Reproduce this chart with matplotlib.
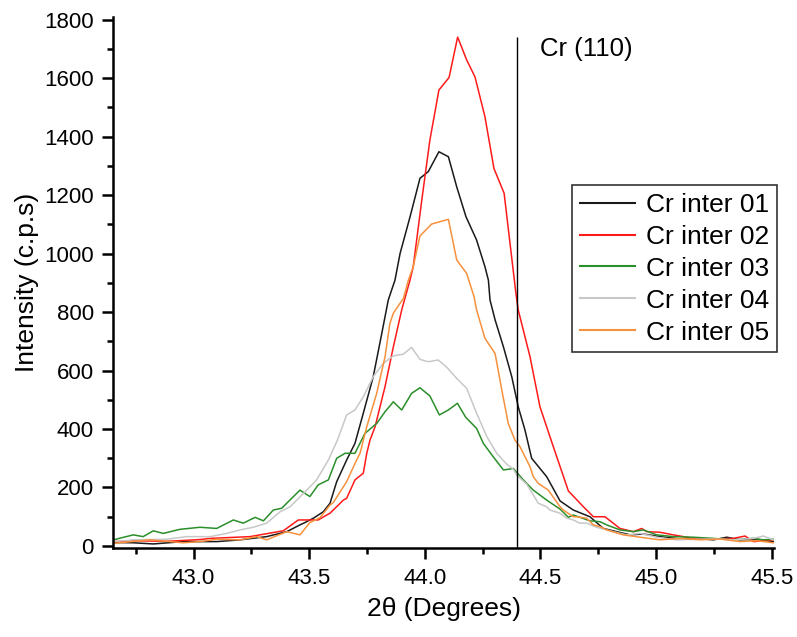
import matplotlib
matplotlib.use("Agg")
import matplotlib.pyplot as plt
from matplotlib.ticker import MultipleLocator

plt.rcParams['font.family'] = ['Liberation Sans', 'DejaVu Sans']

# ---- data ----
x01 = [42.653, 42.739, 42.826, 42.955, 43.100, 43.201, 43.316, 43.403, 43.460, 43.489, 43.518,
       43.561, 43.590, 43.619, 43.662, 43.698, 43.734, 43.777, 43.814, 43.842, 43.871, 43.893,
       43.936, 43.979, 44.015, 44.061, 44.102, 44.138, 44.178, 44.224, 44.260, 44.275, 44.282,
       44.304, 44.340, 44.376, 44.404, 44.433, 44.462, 44.527, 44.585, 44.642, 44.714, 44.772,
       44.830, 44.888, 44.945, 45.017, 45.104, 45.176, 45.248, 45.306, 45.363, 45.435, 45.507]
y01 = [12, 11, 7, 15, 15, 21, 32, 49, 72, 83, 95,
       117, 146, 220, 294, 351, 454, 579, 727, 841, 909, 1000,
       1125, 1257, 1280, 1348, 1331, 1228, 1126, 1046, 955, 909, 841,
       773, 681, 579, 476, 397, 300, 237, 154, 123, 100, 60,
       49, 38, 41, 32, 24, 26, 21, 30, 21, 23, 15]

x02 = [42.653, 42.739, 42.884, 43.028, 43.071, 43.244, 43.388, 43.453, 43.518, 43.539, 43.576,
       43.590, 43.648, 43.662, 43.698, 43.734, 43.749, 43.763, 43.785, 43.828, 43.864, 43.900,
       43.936, 43.950, 43.987, 44.022, 44.061, 44.105, 44.142, 44.181, 44.217, 44.260, 44.299,
       44.343, 44.394, 44.404, 44.455, 44.498, 44.556, 44.621, 44.686, 44.714, 44.729, 44.779,
       44.844, 44.902, 44.938, 44.960, 45.017, 45.075, 45.161, 45.248, 45.334, 45.385, 45.421,
       45.507]
y02 = [15, 18, 16, 22, 26, 32, 52, 89, 89, 89, 106,
       112, 157, 163, 226, 249, 317, 362, 408, 545, 681, 807,
       909, 955, 1183, 1388, 1559, 1602, 1740, 1662, 1604, 1468, 1291,
       1206, 864, 807, 647, 476, 339, 188, 134, 112, 100, 100,
       60, 49, 60, 49, 47, 38, 26, 24, 26, 34, 15,
       21]

x03 = [42.653, 42.739, 42.782, 42.826, 42.869, 42.941, 43.028, 43.100, 43.172, 43.215, 43.266,
       43.302, 43.345, 43.381, 43.460, 43.503, 43.539, 43.583, 43.619, 43.655, 43.698, 43.741,
       43.792, 43.828, 43.864, 43.900, 43.943, 43.979, 44.022, 44.063, 44.102, 44.141, 44.177,
       44.224, 44.253, 44.296, 44.340, 44.383, 44.426, 44.469, 44.527, 44.585, 44.621, 44.642,
       44.671, 44.714, 44.758, 44.787, 44.844, 44.902, 44.945, 45.003, 45.075, 45.161, 45.248,
       45.334, 45.421, 45.464, 45.507]
y03 = [21, 38, 32, 52, 43, 57, 64, 60, 89, 78, 98,
       86, 123, 129, 191, 169, 209, 226, 300, 317, 317, 385,
       419, 459, 493, 465, 522, 541, 513, 448, 465, 488, 440,
       402, 351, 305, 260, 265, 226, 191, 157, 126, 98, 106,
       98, 86, 83, 72, 55, 49, 55, 38, 32, 30, 26,
       21, 26, 21, 23]

x04 = [42.653, 42.739, 42.884, 42.970, 43.071, 43.143, 43.201, 43.258, 43.316, 43.374, 43.417,
       43.468, 43.518, 43.532, 43.583, 43.622, 43.662, 43.698, 43.734, 43.777, 43.821, 43.864,
       43.907, 43.943, 43.979, 44.015, 44.058, 44.095, 44.138, 44.181, 44.224, 44.268, 44.311,
       44.354, 44.383, 44.397, 44.441, 44.491, 44.527, 44.541, 44.585, 44.614, 44.642, 44.671,
       44.700, 44.743, 44.815, 44.873, 44.931, 45.003, 45.089, 45.176, 45.262, 45.334, 45.421,
       45.464, 45.507]
y04 = [15, 21, 23, 32, 32, 43, 55, 64, 78, 117, 134,
       174, 214, 226, 294, 362, 448, 465, 510, 579, 625, 650,
       656, 679, 638, 630, 636, 611, 573, 539, 454, 374, 317,
       280, 262, 243, 211, 146, 134, 123, 112, 95, 89, 78,
       78, 64, 49, 38, 43, 30, 21, 23, 24, 21, 26,
       34, 21]

x05 = [42.653, 42.811, 42.955, 43.028, 43.100, 43.201, 43.273, 43.316, 43.403, 43.460, 43.503,
       43.547, 43.590, 43.604, 43.662, 43.705, 43.720, 43.749, 43.792, 43.828, 43.849, 43.864,
       43.893, 43.907, 43.929, 43.950, 43.979, 44.030, 44.102, 44.138, 44.181, 44.213, 44.224,
       44.260, 44.304, 44.333, 44.361, 44.390, 44.412, 44.419, 44.455, 44.469, 44.491, 44.534,
       44.585, 44.599, 44.642, 44.657, 44.700, 44.729, 44.758, 44.787, 44.858, 44.931, 45.017,
       45.104, 45.190, 45.277, 45.363, 45.435, 45.507]
y05 = [9, 21, 11, 15, 23, 21, 32, 21, 49, 38, 80,
       97, 140, 148, 220, 294, 317, 408, 522, 647, 761, 796,
       830, 845, 909, 955, 1060, 1101, 1117, 978, 932, 852, 807,
       710, 658, 533, 419, 362, 339, 328, 271, 237, 214, 191,
       134, 123, 100, 100, 95, 72, 66, 55, 38, 30, 21,
       26, 21, 24, 15, 18, 11]

labels = ["Cr inter 01", "Cr inter 02", "Cr inter 03", "Cr inter 04", "Cr inter 05"]
colors = ["#1a1a1a", "#ff1a1a", "#2a8f2a", "#c8c8c8", "#f7913d"]
series = [(x01, y01), (x02, y02), (x03, y03), (x04, y04), (x05, y05)]

peak_pos = 44.4
peak_label = "Cr (110)"
peak_top = 1740

xticks = [43.0, 43.5, 44.0, 44.5, 45.0, 45.5]
yticks = list(range(0, 1801, 200))

# ---- figure ----
fig = plt.figure(figsize=(7.97, 6.37), dpi=100)
ax = fig.add_axes([0.1422, 0.1392, 0.8289, 0.8347])

for (xs, ys), lab, c in zip(series, labels, colors):
    ax.plot(xs, ys, color=c, lw=1.1, label=lab)

ax.set_xlim(42.653, 45.51)
ax.set_ylim(-8, 1810)
ax.vlines(peak_pos, -8, peak_top, color="black", lw=1.0)
ax.text(44.50, 1700, peak_label, fontsize=18.5, va="center", ha="left")

ax.set_xticks(xticks)
ax.set_xticklabels([f"{v:.1f}" for v in xticks])
ax.set_yticks(yticks)
ax.xaxis.set_minor_locator(MultipleLocator(0.25))
ax.yaxis.set_minor_locator(MultipleLocator(100))

for s in ["top", "right"]:
    ax.spines[s].set_visible(False)
for s in ["left", "bottom"]:
    ax.spines[s].set_linewidth(1.8)

ax.tick_params(which="major", direction="out", length=8, width=1.8, labelsize=16, pad=6)
ax.tick_params(which="minor", direction="out", length=4.5, width=1.8)

ax.set_xlabel("2θ (Degrees)", fontsize=19, labelpad=6)
ax.set_ylabel("Intensity (c.p.s)", fontsize=19, labelpad=4)

leg = ax.legend(loc="upper right", bbox_to_anchor=(0.975, 0.7096),
                bbox_transform=fig.transFigure, fontsize=19, frameon=True,
                fancybox=False, borderaxespad=0, handlelength=2.1,
                handletextpad=0.4, labelspacing=0.3, borderpad=0.3)
leg.get_frame().set_edgecolor("black")
leg.get_frame().set_linewidth(1.2)
for line in leg.get_lines():
    line.set_linewidth(1.5)

fig.savefig("out.png", dpi=100)
